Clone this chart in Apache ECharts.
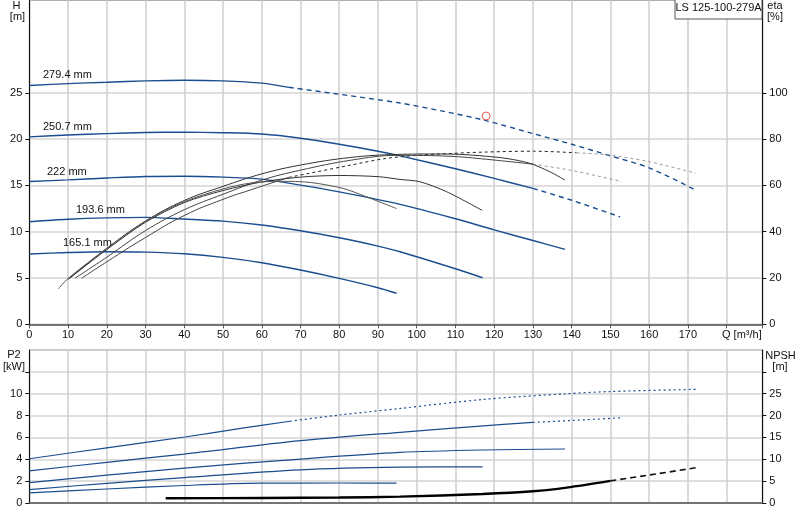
<!DOCTYPE html>
<html>
<head>
<meta charset="utf-8">
<script src="https://cdn.jsdelivr.net/npm/echarts@6/dist/echarts.min.js"></script>
<style>
  html, body { margin: 0; padding: 0; background: #fff; }
  #main { width: 800px; height: 520px; }
</style>
</head>
<body>
<div id="main"></div>
<script>
// head curves H [m] vs Q [m3/h], one per impeller diameter
var diameters = ['279.4 mm', '250.7 mm', '222 mm', '193.6 mm', '165.1 mm'];
var h279 = [[0,25.8],[10,26.0],[20,26.15],[30,26.3],[40,26.37],[50,26.3],[60,26.05],[67,25.6]];
var h279Dash = [[67,25.6],[80,24.85],[95.7,23.9],[107,23.0],[117.9,22.0],[130,20.6],[140,19.45],[150,18.2],[160,16.9],[172,14.5]];
var h250 = [[0,20.25],[10,20.45],[20,20.6],[30,20.72],[40,20.76],[50,20.7],[60,20.55],[70,20.1],[80,19.45],[90,18.7],[95.7,18.2],[110,16.8],[120,15.76],[130,14.68]];
var h250Dash = [[130,14.68],[140,13.4],[152.5,11.6]];
var h222 = [[0,15.43],[10,15.6],[20,15.8],[30,15.97],[40,16.0],[50,15.9],[60,15.68],[70,15.04],[80,14.3],[95.7,12.95],[110,11.4],[120,10.2],[130,9.05],[138.3,8.1]];
var h193 = [[0,11.08],[10,11.35],[20,11.5],[30,11.55],[40,11.37],[50,11.15],[60,10.72],[70,10.1],[80,9.35],[90,8.45],[95.7,7.84],[110,6.0],[117,5.03]];
var h165 = [[0,7.59],[10,7.75],[20,7.84],[30,7.8],[40,7.62],[50,7.23],[60,6.65],[70,5.86],[80,4.96],[90,3.95],[94.8,3.35]];

// efficiency curves eta [%]
var e279 = [[13.5,19.9],[20,27],[30,37.5],[40,47],[50,54],[57,58],[67,63.5]];
var e279Dash = [[67,63.5],[83,68.8],[91.4,71.5],[100,73],[108.6,73.8],[117.2,74.4],[130.1,74.8],[141.3,74.1]];
var e279Grey = [[141.3,74.1],[149.9,73.1],[160.2,70.2],[172,65.3]];
var e250 = [[11.8,19.9],[20,29],[30,40.5],[40,49.5],[50,56.2],[60,62.3],[70,66.6],[83,70.9],[95,73],[108.6,72.6],[118,71.3],[130,69.2]];
var e250Grey = [[130,69.2],[140,66.5],[152.9,61.7]];
var e222 = [[10.1,19.5],[20,32.8],[30,44.6],[40,53.5],[50,59.6],[60,65],[70,68.8],[83,72.1],[95,73.4],[105,73.6],[118,72.6],[127.5,70.3],[133,67],[138.2,62.4]];
var e193 = [[10.1,19.5],[20,32.3],[30,44.1],[40,52.6],[50,57.8],[60,61.5],[70,63.6],[80,64.3],[90,63.8],[95.7,62.6],[100.8,61.6],[107.7,57.3],[116.9,49.2]];
var e165 = [[7.5,15.3],[10,19.8],[20,32.8],[30,44.6],[40,53],[50,58.5],[57,61],[65,61.8],[72.5,61.3],[81,58.7],[87,55.1],[94.8,50]];

// power P2 [kW]
var p279 = [[0,4.05],[20,5.05],[40.2,6.04],[55,6.85],[67.3,7.48]];
var p279Dash = [[67.3,7.48],[80,8.05],[95.7,8.65],[117.2,9.48],[138.7,10.0],[150,10.2],[172,10.4]];
var p250 = [[0,2.94],[20,3.72],[40,4.48],[70,5.7],[95.7,6.47],[121.5,7.18],[130,7.38]];
var p250Dash = [[130,7.38],[140,7.55],[152.5,7.79]];
var p222 = [[0,1.87],[20,2.55],[40,3.19],[70,4.02],[95.7,4.63],[117,4.85],[138.3,4.94]];
var p193 = [[0,1.23],[20,1.8],[40,2.33],[70,3.04],[95.7,3.28],[117,3.31]];
var p165 = [[0,0.92],[20,1.28],[40,1.6],[59.5,1.81],[80,1.83],[94.8,1.81]];

// NPSH [m]
var npsh = [[35.2,1.07],[60,1.15],[80,1.25],[95.7,1.46],[117,2.07],[130,2.7],[138.7,3.53],[150,5.06]];
var npshDash = [[150,5.06],[160,6.4],[172,8.05]];

// duty point
var duty = [[117.9,22.5]];

// tick values per axis
var hTicks = [0,5,10,15,20,25];
var etaTicks = [0,20,40,60,80,100];
var p2Ticks = [0,2,4,6,8,10,12];
var npshTicks = [0,5,10,15,20,25,30];

var FONT = '"Liberation Sans", Arial, sans-serif';
var BLUE = '#1a4d8f';
var chart = echarts.init(document.getElementById('main'), null, { renderer: 'canvas' });

function line(data, xi, yi, color, width, dash, smooth) {
  return {
    type: 'line', data: data, xAxisIndex: xi, yAxisIndex: yi,
    showSymbol: false, smooth: smooth === undefined ? 0.3 : smooth,
    lineStyle: { color: color, width: width, type: dash || 'solid' },
    silent: true, z: 3
  };
}

function xAxis(gi, labels) {
  return {
    type: 'value', gridIndex: gi, min: 0, max: 189.2, interval: 10,
    axisLine: { show: true, onZero: false, lineStyle: { color: '#555', width: 1.5 } },
    axisTick: { show: labels, length: 4, lineStyle: { color: '#555' } },
    axisLabel: {
      show: labels, margin: 5, color: '#111', fontFamily: FONT, fontSize: 11,
      formatter: function (v) { return v <= 170 ? String(v) : ''; }
    },
    splitLine: { show: true, lineStyle: { color: '#cfcfcf', width: 1.5 } }
  };
}

function yAxis(gi, pos, max, interval, ticks, lastLabel) {
  return {
    type: 'value', gridIndex: gi, position: pos, min: 0, max: max, interval: interval,
    axisLine: { show: true, lineStyle: { color: '#111', width: 1 } },
    axisTick: { show: true, length: 4, customValues: ticks, lineStyle: { color: '#111' } },
    axisLabel: {
      margin: 7, color: '#111', fontFamily: FONT, fontSize: 11,
      formatter: function (v) { return v <= lastLabel ? String(v) : ''; }
    },
    splitLine: { show: pos === 'left', lineStyle: { color: '#d4d4d4', width: 1.5 } }
  };
}

function txt(x, y, s, align) {
  return {
    type: 'text', x: x, y: y, silent: true, z: 10,
    style: { text: s, fill: '#111', font: '11px ' + FONT, textAlign: align || 'left', textVerticalAlign: 'middle' }
  };
}

var series = [
  line(h279, 0, 0, BLUE, 1.4), line(h279Dash, 0, 0, BLUE, 1.4, [5, 4]),
  line(h250, 0, 0, BLUE, 1.4), line(h250Dash, 0, 0, BLUE, 1.4, [5, 4]),
  line(h222, 0, 0, BLUE, 1.4), line(h193, 0, 0, BLUE, 1.4), line(h165, 0, 0, BLUE, 1.4),
  line(e279, 0, 1, '#444', 1, 'solid', 0.5), line(e279Dash, 0, 1, '#222', 1, [3, 3]), line(e279Grey, 0, 1, '#9a9a9a', 1, [3, 3]),
  line(e250, 0, 1, '#444', 1, 'solid', 0.4), line(e250Grey, 0, 1, '#9a9a9a', 1, [3, 3]),
  line(e222, 0, 1, '#333', 1, 'solid', 0.4), line(e193, 0, 1, '#333', 1, 'solid', 0.3), line(e165, 0, 1, '#555', 1, 'solid', 0.3),
  line(p279, 1, 2, BLUE, 1.2), line(p279Dash, 1, 2, BLUE, 1.2, [2, 3]),
  line(p250, 1, 2, BLUE, 1.2), line(p250Dash, 1, 2, BLUE, 1.2, [2, 3]),
  line(p222, 1, 2, BLUE, 1.2), line(p193, 1, 2, BLUE, 1.2), line(p165, 1, 2, BLUE, 1.2),
  line(npsh, 1, 3, '#000', 2.4), line(npshDash, 1, 3, '#111', 1.6, [6, 4]),
  {
    type: 'scatter', data: duty, xAxisIndex: 0, yAxisIndex: 0, symbol: 'circle', symbolSize: 8,
    itemStyle: { color: 'rgba(0,0,0,0)', borderColor: '#f03030', borderWidth: 1 }, silent: true, z: 5
  }
];

chart.setOption({
  animation: false,
  backgroundColor: '#fff',
  grid: [
    { left: 29.3, right: 37.7, top: 0.3, height: 324, show: true, borderColor: '#999', borderWidth: 1 },
    { left: 29.3, right: 37.7, top: 350, height: 153, show: true, borderColor: '#999', borderWidth: 1 }
  ],
  xAxis: [xAxis(0, true), xAxis(1, false)],
  yAxis: [
    yAxis(0, 'left', 35, 5, hTicks, 25),
    yAxis(0, 'right', 140, 20, etaTicks, 100),
    yAxis(1, 'left', 14, 2, p2Ticks, 10),
    yAxis(1, 'right', 35, 5, npshTicks, 25)
  ],
  series: series,
  graphic: [
    txt(16.5, 6, 'H', 'center'), txt(17.5, 17, '[m]', 'center'),
    txt(775, 6, 'eta', 'center'), txt(775, 17, '[%]', 'center'),
    txt(14, 355, 'P2', 'center'), txt(14, 366.5, '[kW]', 'center'),
    txt(780.5, 355.5, 'NPSH', 'center'), txt(780, 366.5, '[m]', 'center'),
    txt(722, 334.5, 'Q [m³/h]'),
    txt(43, 75, diameters[0]), txt(43, 127, diameters[1]), txt(47, 172, diameters[2]),
    txt(76, 210, diameters[3]), txt(63, 242.5, diameters[4]),
    {
      type: 'rect', shape: { x: 675, y: -1, width: 87, height: 20 }, silent: true, z: 9,
      style: { fill: '#fff', stroke: '#555', lineWidth: 1 }
    },
    txt(718.5, 8, 'LS 125-100-279A', 'center')
  ]
});
</script>
</body>
</html>
